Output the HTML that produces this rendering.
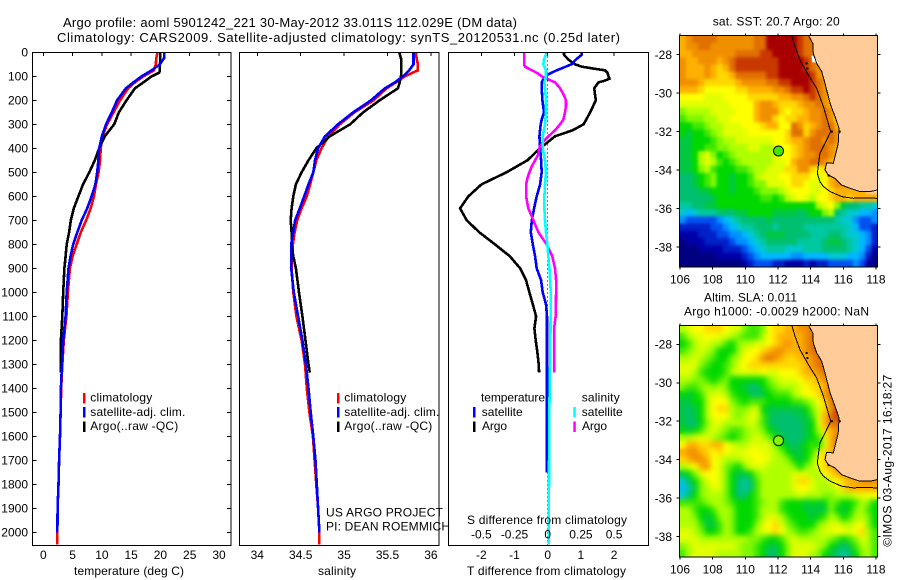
<!DOCTYPE html>
<html>
<head>
<meta charset="utf-8">
<title>Argo profile</title>
<style>
html,body{margin:0;padding:0;background:#fff;}
svg{display:block;}
text{font-family:"Liberation Sans",sans-serif;font-size:12px;fill:#000;}
</style>
</head>
<body>
<svg id="chart" xmlns="http://www.w3.org/2000/svg" width="900" height="580" viewBox="0 0 900 580">
<rect x="0" y="0" width="900" height="580" fill="#fff"/>
<text x="63" y="27" textLength="454" lengthAdjust="spacing" style="font-size:13px">Argo profile: aoml 5901242_221 30-May-2012 33.011S 112.029E (DM data)</text>
<text x="57" y="42" textLength="563" lengthAdjust="spacing" style="font-size:13px">Climatology: CARS2009. Satellite-adjusted climatology: synTS_20120531.nc (0.25d later)</text>
<g id="plots"></g>
<g>
<rect x="83" y="393" width="2.5" height="10.5" fill="#f00"/>
<rect x="83" y="407" width="2.5" height="10.5" fill="#00f"/>
<rect x="83" y="421.5" width="2.5" height="10.5" fill="#000"/>
<text x="90.3" y="401.7" textLength="62">climatology</text>
<text x="90.3" y="416" textLength="95">satellite-adj. clim.</text>
<text x="90.3" y="430" textLength="88">Argo(..raw -QC)</text>
</g>
<g>
<rect x="337" y="393" width="2.5" height="10.5" fill="#f00"/>
<rect x="337" y="407" width="2.5" height="10.5" fill="#00f"/>
<rect x="337" y="421.5" width="2.5" height="10.5" fill="#000"/>
<text x="344.3" y="401.7" textLength="62">climatology</text>
<text x="344.3" y="416" textLength="95">satellite-adj. clim.</text>
<text x="344.3" y="430" textLength="88">Argo(..raw -QC)</text>
<text x="326" y="516.7" textLength="117">US ARGO PROJECT</text>
<text x="326" y="530.7" textLength="124">PI: DEAN ROEMMICH</text>
</g>
<g>
<text x="481" y="401.7" textLength="64">temperature</text>
<rect x="473" y="407" width="2.5" height="10.5" fill="#00f"/>
<rect x="473" y="421.5" width="2.5" height="10.5" fill="#000"/>
<text x="481.7" y="416" textLength="41">satellite</text>
<text x="482" y="430" textLength="25">Argo</text>
<text x="581.7" y="401.7" textLength="38">salinity</text>
<rect x="573.3" y="407" width="2.5" height="10.5" fill="#0ff"/>
<rect x="573.3" y="421.5" width="2.5" height="10.5" fill="#f0f"/>
<text x="581.7" y="416" textLength="41">satellite</text>
<text x="582" y="430" textLength="25">Argo</text>
</g>
<text x="74" y="575" textLength="110">temperature (deg C)</text>
<text x="318" y="575" textLength="38">salinity</text>
<text x="467" y="575" textLength="159">T difference from climatology</text>
<text x="467" y="524" textLength="160">S difference from climatology</text>
<text x="712.7" y="25.7" textLength="127">sat. SST: 20.7 Argo: 20</text>
<text x="704" y="301.7" textLength="93">Altim. SLA: 0.011</text>
<text x="684" y="315.3" textLength="185">Argo h1000: -0.0029 h2000: NaN</text>
<text transform="translate(891.7,546.7) rotate(-90)" textLength="172">©IMOS 03-Aug-2017 16:18:27</text>
<defs>
<clipPath id="clip-sst"><rect x="679.5" y="35.5" width="198" height="231.5"/></clipPath>
<clipPath id="clip-sla"><rect x="679.5" y="325.5" width="198" height="231.5"/></clipPath>
<filter id="soft-sst" x="-5%" y="-5%" width="110%" height="110%" color-interpolation-filters="sRGB">
<feGaussianBlur in="SourceGraphic" stdDeviation="1.7" result="b"/>
<feMerge><feMergeNode in="SourceGraphic"/><feMergeNode in="b"/></feMerge>
</filter>
<filter id="soft-sla" x="-5%" y="-5%" width="110%" height="110%" color-interpolation-filters="sRGB">
<feGaussianBlur in="SourceGraphic" stdDeviation="3" result="b"/>
<feMerge><feMergeNode in="SourceGraphic"/><feMergeNode in="b"/></feMerge>
</filter>
</defs>
</svg>
<script>
// ---- axis ticks ----
const depthTicks = [0,100,200,300,400,500,600,700,800,900,1000,1100,1200,1300,1400,1500,1600,1700,1800,1900,2000];
const tempTicks = [0,5,10,15,20,25,30];
const salTicks = [34,34.5,35,35.5,36];
const tDiffTicks = [-2,-1,0,1,2];
const sDiffTicks = [-0.5,-0.25,0,0.25,0.5];
const lonTicks = [106,108,110,112,114,116,118];
const latTicks = [28,30,32,34,36,38];

// ---- profile data ----
const climDepths = [0,25,50,75,100,125,150,200,250,300,350,400,450,500,550,600,650,700,750,800,850,900,1000,1100,1200,1300,1400,1500,1600,1700,1800,1900,2000,2050];
const tempClim = [19.5,19.3,19.2,18.9,17.1,15.65,14.5,13.1,12.0,10.9,10.1,9.8,9.7,9.45,9.0,8.65,8.1,7.3,6.4,5.7,5.0,4.55,4.2,3.95,3.5,3.25,3.05,2.95,2.85,2.7,2.6,2.45,2.4,2.4];
const tempSat = [20.7,20.6,19.9,18.5,16.8,15.4,14.1,12.6,11.7,10.7,10,9.55,9.4,9.2,8.9,8.25,7.5,6.55,5.8,5.1,4.65,4.3,4.0,3.8,3.4,3.2,3.0,2.96,2.85,2.7,2.6,2.45,2.4];
const argoDepths = [0,25,50,75,85,100,125,150,200,250,300,350,400,450,500,550,600,650,700,750,800,850,900,1000,1100,1200,1300,1335];
const tempArgo = [20.0,20.0,19.9,19.9,19.8,18.5,17.1,15.65,14.2,12.9,12.1,10.5,9.55,8.8,7.85,6.8,6.0,5.2,4.7,4.4,4.0,3.8,3.6,3.4,3.25,3.0,2.95,2.95];
const salClim = [35.83,35.835,35.85,35.85,35.70,35.6,35.49,35.34,35.12,34.95,34.82,34.74,34.68,34.645,34.61,34.57,34.51,34.46,34.43,34.41,34.4,34.395,34.415,34.45,34.51,34.55,34.57,34.6,34.64,34.66,34.68,34.7,34.715,34.715];
const salSat = [35.8,35.8,35.8,35.75,35.68,35.585,35.47,35.31,35.105,34.93,34.78,34.7,34.665,34.645,34.59,34.54,34.49,34.435,34.415,34.39,34.39,34.39,34.42,34.47,34.52,34.56,34.59,34.615,34.645,34.67,34.685,34.7,34.715];
const salArgo = [35.635,35.655,35.66,35.66,35.66,35.655,35.64,35.62,35.41,35.22,35.07,34.835,34.68,34.59,34.51,34.445,34.415,34.395,34.385,34.395,34.395,34.415,34.445,34.48,34.52,34.555,34.59,34.605];

// ---- difference data ----
const tDiffArgoDepths = [0,10,20,30,40,50,60,70,75,85,100,110,120,125,150,200,250,300,325,350,400,450,500,550,600,650,700,750,800,850,900,950,1000,1050,1100,1150,1200,1250,1300,1335];
const tDiffArgo = [0.49,0.49,0.55,0.62,0.72,0.82,1.03,1.48,1.73,1.8,1.83,1.86,1.68,1.53,1.4,1.45,1.28,1.08,0.75,0.22,-0.23,-0.61,-1.24,-1.99,-2.39,-2.64,-2.44,-2.06,-1.59,-1.14,-0.83,-0.65,-0.55,-0.45,-0.35,-0.4,-0.36,-0.31,-0.27,-0.26];
const tDiffSatDepths = [0,10,30,50,75,95,110,125,150,200,250,280,300,350,400,450,500,550,600,650,700,750,800,850,900,950,1000,1050,1100,1200,1500,1750];
const tDiffSat = [1.03,1.03,0.85,0.72,0.27,-0.03,-0.12,-0.18,-0.18,-0.16,-0.11,-0.18,-0.21,-0.25,-0.23,-0.2,-0.18,-0.23,-0.33,-0.41,-0.48,-0.51,-0.45,-0.38,-0.33,-0.2,-0.15,-0.05,-0.02,-0.02,-0.02,-0.02];
const sDiffArgoDepths = [0,50,60,75,85,100,110,125,150,175,200,225,250,280,300,325,350,375,400,425,450,475,500,525,550,600,650,700,750,800,850,900,950,1000,1100,1150,1200,1300,1335];
const sDiffArgo = [-0.178,-0.178,-0.171,-0.12,-0.083,-0.045,-0.008,0.055,0.093,0.118,0.138,0.138,0.13,0.118,0.093,0.055,0.005,-0.038,-0.063,-0.07,-0.095,-0.12,-0.138,-0.153,-0.163,-0.163,-0.146,-0.108,-0.07,-0.008,0.035,0.055,0.063,0.063,0.06,0.048,0.048,0.048,0.048];
const sDiffSatDepths = [0,20,30,50,75,100,125,150,200,250,300,350,400,450,500,550,600,650,700,750,800,850,900,950,1000,1200,1300,1500,1750,2050];
const sDiffSat = [-0.008,-0.02,-0.028,-0.033,-0.013,-0.013,-0.025,-0.02,-0.013,-0.013,-0.02,-0.038,-0.038,-0.02,-0.013,-0.02,-0.025,-0.025,-0.02,-0.013,-0.003,0.005,0.013,0.018,0.023,0.02,0.018,0.012,0.01,0.008];

// ---- map data: colour-level per cell, north to south, west to east ----
const levelColors = ['#000080','#0000a8','#0020c8','#0050f0','#0090ff','#00b8ff','#00c8d0','#00c8a0','#00c070','#00c840','#00d800','#40e800','#80f800','#b0ff00','#e0ff00','#ffff00','#ffd800','#ffb000','#f09000','#e07000','#c83800','#a80000'];
const sstGrid = [
[17,18,19,19,19,19,18,18,18,18,18,18,19,19,21,21,21,21,21,20,19,19,19,19],
[17,18,18,19,19,18,18,18,18,18,18,18,19,19,21,21,21,21,21,20,19,19,18,18],
[17,17,18,18,18,18,18,18,18,19,19,19,19,20,20,21,21,21,21,20,19,19,18,18],
[18,17,17,18,18,18,17,18,19,20,20,20,20,20,20,20,21,21,21,21,20,19,18,18],
[18,17,17,17,18,17,16,17,19,20,20,20,20,20,20,20,21,21,21,21,20,19,18,18],
[18,17,17,17,18,17,16,16,17,19,19,19,19,19,20,20,21,21,21,21,21,20,18,18,18],
[18,18,18,17,16,16,16,16,16,17,18,18,18,18,19,19,20,20,21,21,21,20,19,18,17],
[17,17,17,16,15,15,15,15,15,16,16,17,17,17,17,18,18,19,20,20,21,20,19,18,17,17],
[15,15,15,15,14,14,14,15,15,15,15,16,16,16,16,16,17,17,18,18,19,20,19,18,17,16],
[14,14,14,14,14,14,14,14,15,15,15,15,17,18,18,17,16,16,16,17,18,18,19,18,17,16,16],
[12,13,13,13,13,14,14,14,14,15,15,15,17,18,18,18,16,15,16,16,17,18,18,19,18,16,16],
[11,12,12,12,13,13,14,14,15,15,15,15,17,18,18,16,15,16,16,17,17,18,18,19,18,16,16,16],
[10,10,11,11,12,13,13,14,14,14,15,15,15,16,17,17,15,15,19,18,16,17,18,19,19,17,16,16],
[10,9,10,10,11,12,13,14,14,14,14,15,15,15,15,15,15,16,19,19,16,18,19,19,19,18,16,16],
[9,9,10,10,10,11,12,13,13,14,14,14,14,14,14,15,15,16,17,17,18,19,19,18,19,18,16,16],
[9,9,10,10,11,11,12,12,13,13,13,14,14,13,13,14,15,15,16,17,18,19,19,19,18,17,16],
[9,9,10,13,14,12,10,11,12,13,13,13,13,13,13,14,15,15,16,17,18,18,19,19,18,17,17],
[9,9,10,13,14,13,11,10,11,12,13,13,13,13,13,14,14,15,17,18,18,19,19,18,17,16,16],
[9,9,10,12,13,11,10,10,10,11,11,12,13,13,14,14,14,16,16,18,18,16,15,16,17,17],
[8,8,9,10,11,12,10,10,9,10,10,11,13,14,14,14,15,15,16,16,16,15,14,15,17,17,17],
[8,8,9,10,11,12,10,10,9,10,10,11,12,12,14,14,14,15,16,16,15,14,14,15,17,18,18,18],
[8,8,8,9,9,10,10,10,9,10,10,10,11,12,12,12,13,14,15,15,15,14,14,15,16,17,17,17,17,17],
[8,8,8,8,8,9,10,10,10,10,10,10,10,11,11,10,11,13,14,15,14,13,15,15,16,17,17,16,17,17,17,17],
[7,7,8,8,9,9,10,10,10,10,10,10,10,10,10,10,10,10,10,10,10,10,13,14,15,12,9,8,8,7,7,6],
[6,5,6,7,7,7,8,8,8,9,9,10,10,10,10,9,9,9,9,8,9,10,10,12,13,8,7,6,6,5,5,4],
[4,3,3,3,3,3,4,5,6,7,8,8,8,8,9,8,8,8,8,8,8,8,8,8,8,7,6,6,4,3,3,4],
[2,2,2,2,2,3,3,4,5,6,7,7,8,8,8,7,8,8,8,8,7,7,7,7,7,7,7,6,5,3,3,2],
[1,1,1,2,2,2,3,3,4,4,5,6,7,8,9,9,9,8,8,8,8,7,7,7,8,8,7,6,6,5,4,2],
[0,1,1,1,2,2,2,2,3,4,4,5,6,7,8,8,8,8,8,7,7,7,7,8,9,9,8,7,6,5,4,2],
[0,0,0,1,1,1,1,2,2,2,3,4,5,6,7,7,7,6,6,6,7,7,7,8,8,8,8,7,6,5,3,1],
[0,0,0,0,0,0,1,1,1,1,2,3,4,5,5,5,5,5,4,4,5,5,5,5,6,6,6,5,5,4,2,0],
[0,0,0,0,0,0,0,0,0,0,1,2,3,3,3,2,2,1,1,1,2,1,2,2,3,3,3,3,4,3,1,0]
];
const slaGrid = [
[13,14,15,15,16,16,16,15,14,14,12,11,11,12,15,16,16,17,17,18,18,19,18,18],
[11,13,14,14,15,15,14,14,13,12,11,11,11,13,15,16,17,17,17,17,18,19,19,19],
[10,11,13,14,14,13,13,11,10,12,13,13,14,14,15,16,17,18,17,17,18,19,19,19],
[11,12,13,14,13,12,10,10,10,12,14,15,15,16,17,18,18,17,17,17,18,19,19,19],
[13,13,14,13,12,11,10,10,12,13,15,15,16,18,19,18,17,16,16,17,17,18,19,19,19],
[14,14,14,12,11,10,10,11,12,14,15,16,16,16,16,16,16,16,16,16,17,18,19,19,19],
[14,14,13,11,10,10,10,11,13,14,14,14,14,15,14,14,15,15,15,16,17,17,18,19,19],
[13,13,12,12,11,10,11,12,10,10,10,10,10,10,12,13,14,14,14,15,16,16,17,18,19,19],
[12,11,11,12,13,12,13,12,10,10,9,8,8,10,11,12,13,13,13,14,15,16,16,17,19,19],
[10,9,10,11,13,14,14,13,11,10,10,9,8,9,10,11,11,11,13,14,15,15,16,18,19,19,19],
[9,9,10,10,13,15,15,15,12,11,10,11,11,11,10,10,10,10,11,11,12,13,15,16,19,19,20],
[9,8,9,10,13,15,16,16,13,12,12,13,14,10,9,9,9,9,9,9,10,12,14,16,18,20,20,20],
[9,8,9,10,13,15,15,15,13,12,13,14,14,11,9,8,8,8,8,9,9,11,14,17,19,20,20,20],
[9,8,8,10,12,14,14,13,13,13,13,14,13,11,9,8,8,8,8,8,9,10,14,17,19,19,20,20],
[10,9,10,11,13,14,13,12,11,11,12,13,13,12,10,9,8,8,8,8,9,10,13,16,17,18,19,19],
[13,13,14,14,14,13,12,11,10,11,12,13,14,13,12,10,9,8,8,8,9,10,11,14,17,19,19,19],
[15,17,17,16,16,17,17,15,14,13,13,14,14,14,14,12,10,9,8,9,10,11,10,14,17,19,20],
[17,18,18,17,16,15,16,15,14,14,14,15,15,14,14,13,12,10,9,9,10,11,14,16,17,18,18],
[16,17,18,18,17,15,14,13,13,13,14,14,15,15,14,13,13,12,10,9,10,12,15,16,17,18,19],
[13,14,15,17,18,15,14,12,11,10,12,14,14,14,13,13,13,13,12,10,12,13,15,16,17,18,18,18],
[9,10,12,14,15,15,14,12,10,9,9,10,12,13,13,13,13,13,14,14,14,13,13,15,16,17,18,18,18],
[6,8,10,12,14,15,14,12,10,8,7,8,11,13,13,13,13,13,14,16,16,14,13,13,14,15,16,17,17,18,18,18],
[5,7,9,12,13,14,14,12,10,8,7,8,11,13,13,13,13,13,14,15,15,14,13,13,13,14,16,17,17,17,17,17],
[6,8,10,12,13,13,13,12,10,8,8,10,11,13,13,13,13,13,13,14,13,13,13,12,12,13,13,13,14,14,15,15],
[11,11,11,11,12,13,13,12,11,10,10,10,11,12,13,13,11,10,10,10,9,10,9,10,12,11,10,10,11,13,12,10],
[13,13,11,10,10,11,13,13,12,10,10,10,11,13,13,13,11,10,10,10,9,9,9,9,12,10,9,10,12,13,11,10],
[13,13,12,10,9,10,12,13,12,10,10,10,11,13,14,14,13,11,10,10,10,9,10,11,13,12,10,11,13,13,12,10],
[13,13,13,11,9,9,11,13,12,10,10,10,12,14,15,16,14,12,11,10,10,10,12,13,14,14,13,13,14,15,12,10],
[14,14,13,12,10,10,11,13,12,10,10,11,13,14,15,16,15,13,12,11,11,12,13,14,14,15,15,14,15,16,13,11],
[14,14,14,13,13,13,13,13,13,13,13,12,12,11,10,10,11,13,14,13,13,13,13,13,12,11,10,11,12,14,13,11],
[12,13,14,14,14,14,14,14,14,13,12,12,11,10,9,9,10,12,14,14,14,14,13,12,10,9,8,9,11,13,13,11],
[11,13,14,14,14,14,13,13,13,13,12,12,11,10,8,8,10,12,14,14,14,13,12,10,9,8,7,8,10,12,13,11]
];

// ---- geography (lon, lat; south latitude positive) ----
const coastLons = [113.86,114.13,114.16,114.37,114.68,114.88,115.19,115.49,115.74,115.69,115.49,115.39,114.98,114.88,115.08,115.49,115.90,116.41,117.02,117.63,118.06];
const coastLats = [26.99,27.41,27.93,28.45,28.88,29.49,30.53,31.22,31.83,32.61,33.30,33.65,33.62,33.99,34.26,34.43,34.78,34.95,35.12,35.12,35.04];
const isobathLons = [112.84,113.04,113.35,113.86,114.37,114.78,115.08,115.23,114.88,114.57,114.41,114.57,114.78,115.19,115.90,116.61,117.22,118.06];
const isobathLats = [26.99,27.58,28.28,29.06,29.75,30.70,31.57,32.0,32.61,33.13,34.17,34.6,34.86,35.12,35.38,35.47,35.44,35.47];
const noDataLons = [114.06,114.16,114.47,114.1];
const noDataLats = [28.05,28.05,28.4,28.4];
const islandLons = [113.75,113.8,115.1,115.78,115.3];
const islandLats = [28.45,28.72,34.28,32.0,32.0];
const floatLon = 112.03;
const floatLat = 33.01;

// ---- scales ----
const depthY = d => 52.3 + d * 0.24;
const tempX = t => 43.3 + t * 5.857;
const salX = s => 257.3 + (s - 34) * 86.8;
const tDiffX = t => 547.7 + t * 33.2;
const sDiffX = s => 547.7 + s * 132.8;
const lonX = lon => 680 + (lon - 106) * 16.33;
const latYTop = lat => 54.7 + (lat - 28) * 19.23;
const latYBottom = lat => 344.3 + (lat - 28) * 19.23;

const SVGNS = 'http://www.w3.org/2000/svg';
const root = document.getElementById('plots');
function make(tag, attrs, parent) {
  const e = document.createElementNS(SVGNS, tag);
  for (const k in attrs) e.setAttribute(k, attrs[k]);
  (parent || root).appendChild(e);
  return e;
}
function group(name) {
  const g = make('g', {});
  
  
  return g;
}
function tickLine(g, x1, y1, x2, y2) {
  const t = make('line', {x1: x1, y1: y1, x2: x2, y2: y2, stroke: '#000', 'stroke-width': 1, 'shape-rendering': 'crispEdges'}, g);
  
  
}
function tickLabel(g, x, y, label, anchor) {
  const t = make('text', {x: x, y: y, 'text-anchor': anchor}, g);
  t.textContent = label;
  
  
}
function series(g, xs, ds, xFn, color, name, w) {
  const pts = [];
  for (let i = 0; i < Math.min(xs.length, ds.length); i++) pts.push(xFn(xs[i]).toFixed(1) + ',' + depthY(ds[i]).toFixed(1));
  const p = make('polyline', {points: pts.join(' '), fill: 'none', stroke: color, 'stroke-width': w || 2.6, 'stroke-linejoin': 'miter', 'shape-rendering': 'crispEdges'}, g);
  
  
}
function panelBox(g, x, w) {
  const r = make('rect', {x: x, y: 52.5, width: w, height: 493, fill: 'none', stroke: '#000', 'stroke-width': 1, 'shape-rendering': 'crispEdges'}, g);
  
  
}

// temperature panel
const tp = group('temperature-panel');
series(tp, tempClim, climDepths, tempX, '#f00', 'temperature-climatology-line');
series(tp, tempArgo, argoDepths, tempX, '#000', 'temperature-argo-line');
series(tp, tempSat, climDepths, tempX, '#00f', 'temperature-satellite-line');
panelBox(tp, 32.5, 198.5);
depthTicks.forEach(d => {
  tickLine(tp, 32.5, depthY(d), 36.5, depthY(d));
  tickLine(tp, 227, depthY(d), 231, depthY(d));
  tickLabel(tp, 28, depthY(d) + 4.4, String(d), 'end');
});
tempTicks.forEach(t => {
  tickLine(tp, tempX(t), 52.5, tempX(t), 56);
  tickLabel(tp, tempX(t), 559, String(t), 'middle');
});

// salinity panel
const sp = group('salinity-panel');
series(sp, salClim, climDepths, salX, '#f00', 'salinity-climatology-line');
series(sp, salArgo, argoDepths, salX, '#000', 'salinity-argo-line');
series(sp, salSat, climDepths, salX, '#00f', 'salinity-satellite-line');
panelBox(sp, 239.5, 199.5);
salTicks.forEach(s => {
  tickLine(sp, salX(s), 52.5, salX(s), 56);
  tickLabel(sp, salX(s), 559, String(s), 'middle');
});

// difference panel
const dp = group('difference-panel');
const zero = make('line', {x1: tDiffX(0), y1: 52.5, x2: tDiffX(0), y2: 545.5, stroke: '#000', 'stroke-width': 1, 'stroke-dasharray': '1 3', 'shape-rendering': 'crispEdges'}, dp);


series(dp, tDiffArgo, tDiffArgoDepths, tDiffX, '#000', 't-difference-argo-line');
series(dp, tDiffSat, tDiffSatDepths, tDiffX, '#00f', 't-difference-satellite-line');
series(dp, sDiffArgo, sDiffArgoDepths, sDiffX, '#f0f', 's-difference-argo-line');
series(dp, sDiffSat, sDiffSatDepths, sDiffX, '#0ff', 's-difference-satellite-line');
panelBox(dp, 448.5, 200);
tDiffTicks.forEach(t => {
  tickLine(dp, tDiffX(t), 52.5, tDiffX(t), 56);
  tickLabel(dp, tDiffX(t), 559, String(t), 'middle');
});
sDiffTicks.forEach(s => {
  tickLabel(dp, sDiffX(s), 538.7, String(s), 'middle');
});

// maps
function drawMap(name, grid, latY, clipId, fillLevel, baseY, showNoData, softId) {
  const g = group(name);
  const content = make('g', {'clip-path': 'url(#' + clipId + ')'}, g);
  const bg = make('rect', {x: 679.5, y: baseY, width: 198, height: 232, fill: '#ffcc99'}, content);
  
  
  const cells = make('g', {filter: 'url(#' + softId + ')'}, content);
  
  
  const cw = 198 / 32, ch = 231.5 / 32;
  grid.forEach((row, r) => {
    row.forEach((v, c) => {
      const cell = make('rect', {x: (679.5 + c * cw).toFixed(2), y: (baseY + r * ch).toFixed(2), width: (cw + 0.4).toFixed(2), height: (ch + 0.4).toFixed(2), fill: levelColors[v]}, cells);
      
      
    });
  });
  const landPts = coastLons.map((lon, i) => lonX(lon).toFixed(1) + ',' + latY(coastLats[i]).toFixed(1));
  landPts.push(lonX(118.3).toFixed(1) + ',' + latY(35.04).toFixed(1));
  landPts.push(lonX(118.3).toFixed(1) + ',' + latY(26.8).toFixed(1));
  landPts.push(lonX(113.86).toFixed(1) + ',' + latY(26.8).toFixed(1));
  const land = make('polygon', {points: landPts.join(' '), fill: '#ffcc99', 'shape-rendering': 'crispEdges'}, content);
  
  
  if (showNoData) {
    const nd = make('polygon', {points: noDataLons.map((lon, i) => lonX(lon).toFixed(1) + ',' + latY(noDataLats[i]).toFixed(1)).join(' '), fill: '#fff'}, content);
    
    
  }
  const coast = make('polyline', {points: coastLons.map((lon, i) => lonX(lon).toFixed(1) + ',' + latY(coastLats[i]).toFixed(1)).join(' '), fill: 'none', stroke: '#000', 'stroke-width': 1, 'shape-rendering': 'crispEdges'}, content);
  
  
  const iso = make('polyline', {points: isobathLons.map((lon, i) => lonX(lon).toFixed(1) + ',' + latY(isobathLats[i]).toFixed(1)).join(' '), fill: 'none', stroke: '#000', 'stroke-width': 1, 'shape-rendering': 'crispEdges'}, content);
  
  
  islandLons.forEach((lon, i) => {
    const d = make('rect', {x: (lonX(lon) - 1).toFixed(1), y: (latY(islandLats[i]) - 1).toFixed(1), width: 2, height: 2, fill: '#000'}, content);
    
    
  });
  const marker = make('circle', {cx: lonX(floatLon).toFixed(1), cy: latY(floatLat).toFixed(1), r: 5, fill: levelColors[fillLevel], stroke: '#000', 'stroke-width': 1}, g);
  
  
  const frame = make('rect', {x: 679.5, y: baseY, width: 198, height: 231.5, fill: 'none', stroke: '#000', 'stroke-width': 1, 'shape-rendering': 'crispEdges'}, g);
  
  
  lonTicks.forEach(lon => {
    tickLine(g, lonX(lon), baseY - 2, lonX(lon), baseY);
    tickLine(g, lonX(lon), baseY + 231.5, lonX(lon), baseY + 234);
    tickLabel(g, lonX(lon), baseY + 248, String(lon), 'middle');
  });
  latTicks.forEach(lat => {
    tickLine(g, 676.5, latY(lat), 679.5, latY(lat));
    tickLine(g, 877.5, latY(lat), 880.5, latY(lat));
    tickLabel(g, 672, latY(lat) + 4.4, '-' + lat, 'end');
  });
}
drawMap('sst-map', sstGrid, latYTop, 'clip-sst', 11, 35.5, true, 'soft-sst');
drawMap('sla-map', slaGrid, latYBottom, 'clip-sla', 12, 325.5, false, 'soft-sla');
</script>
</body>
</html>
